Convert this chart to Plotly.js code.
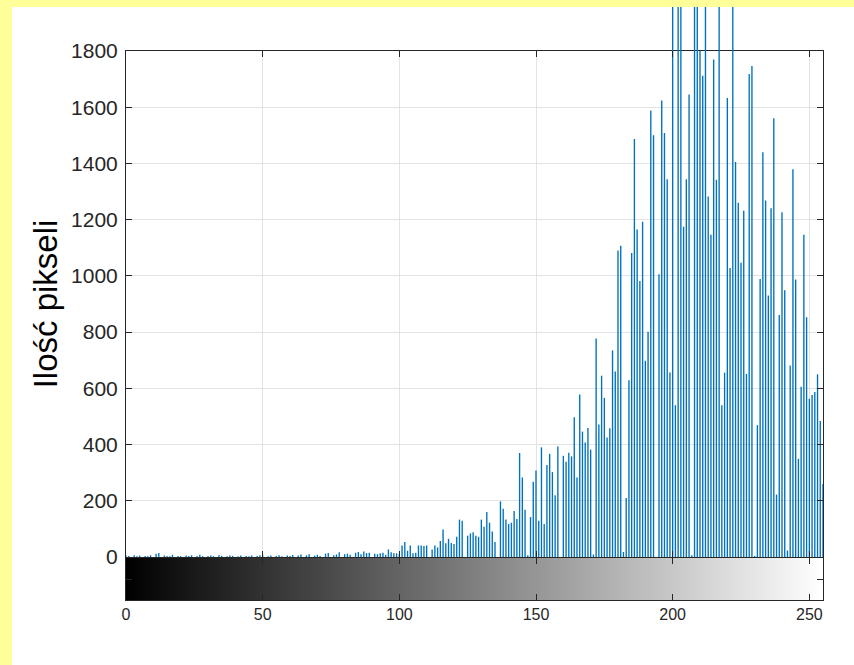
<!DOCTYPE html>
<html>
<head>
<meta charset="utf-8">
<script src="https://cdn.plot.ly/plotly-3.0.1.min.js"></script>
<style>html,body{margin:0;padding:0;background:#fff;}</style>
</head>
<body>
<div id="chart" style="width:854px;height:665px;"></div>
<script>
// Histogram counts for grey levels 0..255
const counts = [
  5,4,0,6,3,5,0,4,3,6, 0,12,14,0,5,4,3,8,0,4,
  3,0,5,4,6,0,4,8,3,0, 4,5,3,0,6,4,0,3,5,4,
  0,3,5,0,4,3,5,0,4,6, 8,0,3,5,0,4,6,3,0,5,
  4,7,0,5,9,0,6,10,0,5, 8,4,0,12,14,0,6,9,17,0,
  10,12,8,0,15,18,10,20,14,15, 0,12,10,13,15,8,27,17,13,13,
  10,41,53,22,41,13,15,41,41,39, 41,0,27,41,34,57,98,49,65,50,
  46,72,133,129,0,76,84,88,76,72, 133,108,160,122,91,53,0,198,172,133,
  117,122,164,135,370,283,168,6,142,268, 308,129,390,117,327,367,302,220,393,0,
  360,339,371,358,497,283,578,446,407,459, 382,9,777,471,645,566,425,458,735,660,
  1090,1107,18,210,629,1081,1487,1165,982,1193, 698,801,1588,1500,0,1006,1624,1508,1344,656,
  2300,540,2200,2400,1175,1344,1645,6,2100,2500, 1800,1712,2300,1282,1146,1770,1342,2400,540,656,
  1633,1028,2200,1405,1260,1047,1232,651,1718,1747, 4,469,989,1440,1268,930,1241,1561,222,861,
  1226,949,23,681,1379,987,349,606,1146,853, 563,576,587,650,484,260
];
const greyLevels = counts.map((_, i) => i);
const xTickVals = [0, 50, 100, 150, 200, 250];
const yTickVals = [0, 200, 400, 600, 800, 1000, 1200, 1400, 1600, 1800];
const yTitle = 'Ilość pikseli';

const axisColor = '#262626';
const font = 'Liberation Sans, Arial, sans-serif';
const barColor = '#0072BD';

// paper coordinates: x 0..1 = 126..823 px, y 0..1 = 600..7 px
const pxToPaperX = px => (px - 126) / 697;
const pxToPaperY = py => (600 - py) / 593;
const yMax = 1800;
const overflowTop = yMax * (557 - 7) / (557 - 51);   // value at the top of the figure

const traces = [
  {
    type: 'bar', x: greyLevels, y: counts, xaxis: 'x', yaxis: 'y',
    marker: {color: barColor, line: {width: 0}}, hoverinfo: 'x+y'
  },
  {
    // the part of the tallest bars that overshoots the axes box
    type: 'bar', x: greyLevels, y: counts, xaxis: 'x3', yaxis: 'y3',
    marker: {color: barColor, line: {width: 0}}, hoverinfo: 'skip'
  },
  {
    type: 'heatmap', x: greyLevels, y: [0.5], z: [greyLevels], xaxis: 'x2', yaxis: 'y2',
    colorscale: [[0, '#000000'], [1, '#ffffff']], zmin: 0, zmax: 255, showscale: false
  }
];

const layout = {
  width: 854, height: 665,
  margin: {l: 126, r: 31, t: 7, b: 65},
  paper_bgcolor: '#ffffff', plot_bgcolor: 'rgba(0,0,0,0)',
  showlegend: false, bargap: 0.5,
  font: {family: font, color: axisColor},
  xaxis: {
    domain: [0, 1], anchor: 'y', range: [0, 255], tickvals: xTickVals,
    showticklabels: false, ticks: 'inside', ticklen: 6, tickcolor: axisColor,
    showline: true, linecolor: axisColor, linewidth: 1, mirror: 'ticks',
    showgrid: true, gridcolor: '#e3e3e3', zeroline: false
  },
  yaxis: {
    domain: [pxToPaperY(557), pxToPaperY(51)], anchor: 'x', range: [0, yMax], tickvals: yTickVals,
    ticks: 'inside', ticklen: 6, tickcolor: axisColor, ticklabelstandoff: 3,
    tickfont: {size: 21, family: font, color: axisColor},
    showline: true, linecolor: axisColor, linewidth: 1, mirror: 'ticks',
    showgrid: true, gridcolor: '#e3e3e3', zeroline: false,
    title: {text: yTitle, font: {size: 33, family: font, color: '#000000'}, standoff: 3}
  },
  xaxis3: {
    domain: [0, 1], anchor: 'y3', range: [0, 255], visible: false, fixedrange: true
  },
  yaxis3: {
    domain: [pxToPaperY(51), 1], anchor: 'x3', range: [yMax, overflowTop],
    visible: false, fixedrange: true
  },
  xaxis2: {
    domain: [0, 1], anchor: 'y2', range: [0, 255], tickvals: xTickVals,
    ticks: 'inside', ticklen: 6, tickcolor: axisColor,
    tickfont: {size: 16, family: font, color: axisColor},
    showline: true, linecolor: axisColor, linewidth: 1, mirror: 'ticks',
    showgrid: false, zeroline: false
  },
  yaxis2: {
    domain: [0, pxToPaperY(558)], anchor: 'x2', range: [0, 1], tickvals: [0.5],
    showticklabels: false, ticks: 'inside', ticklen: 6, tickcolor: axisColor,
    showline: true, linecolor: axisColor, linewidth: 1, mirror: 'ticks',
    showgrid: false, zeroline: false
  },
  shapes: [
    {type: 'rect', xref: 'paper', yref: 'paper', layer: 'above',
     x0: pxToPaperX(-5), x1: pxToPaperX(12), y0: pxToPaperY(670), y1: pxToPaperY(-5),
     fillcolor: '#ffff99', line: {width: 0}},
    {type: 'rect', xref: 'paper', yref: 'paper', layer: 'above',
     x0: pxToPaperX(-5), x1: pxToPaperX(860), y0: pxToPaperY(7), y1: pxToPaperY(-5),
     fillcolor: '#ffff99', line: {width: 0}}
  ]
};

Plotly.newPlot('chart', traces, layout, {staticPlot: true, displayModeBar: false});
</script>
</body>
</html>
